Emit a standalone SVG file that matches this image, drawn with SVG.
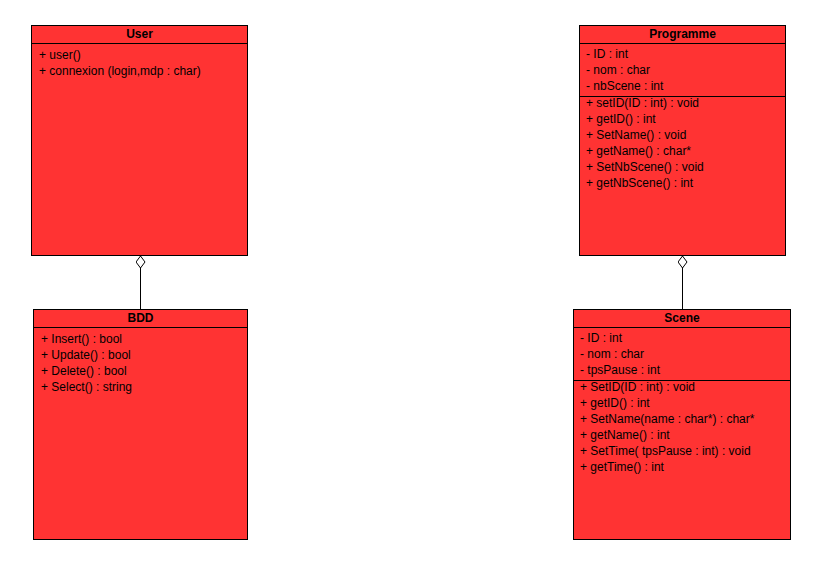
<svg xmlns="http://www.w3.org/2000/svg" width="833" height="569" viewBox="0 0 833 569">
<style>
.box{fill:#ff3333;stroke:#000;stroke-width:1}
.sep{stroke:#000;stroke-width:1;fill:none}
.t{font-family:"Liberation Sans",Arial,sans-serif;font-size:12px;fill:#000}
.h{font-family:"Liberation Sans",Arial,sans-serif;font-size:12px;font-weight:bold;fill:#000;text-anchor:middle}
.con{stroke:#000;stroke-width:1;fill:none}
</style>
<defs>
<marker id="diamond" markerWidth="14" markerHeight="10" refX="13" refY="5" orient="auto" markerUnits="userSpaceOnUse">
<path d="M1,5 L7,0.5 L13,5 L7,9.5 Z" fill="#fff" stroke="#000" stroke-width="1"/>
</marker>
</defs>
<rect width="833" height="569" fill="#fff"/>
<g id="connectors">
<path class="con" d="M140.5,309.5 L140.5,256" marker-end="url(#diamond)"/>
<path class="con" d="M682.5,309.5 L682.5,256" marker-end="url(#diamond)"/>
</g>
<g id="User">
<rect class="box" x="31.5" y="25.5" width="216" height="230"/>
<line class="sep" x1="31.5" y1="43.5" x2="247.5" y2="43.5"/>
<text class="h" x="139.5" y="38">User</text>
<text class="t" x="39" y="59">+ user()</text>
<text class="t" x="39" y="75">+ connexion (login,mdp : char)</text>
</g>
<g id="BDD">
<rect class="box" x="33.5" y="309.5" width="214" height="230"/>
<line class="sep" x1="33.5" y1="327.5" x2="247.5" y2="327.5"/>
<text class="h" x="140.5" y="322">BDD</text>
<text class="t" x="41" y="343">+ Insert() : bool</text>
<text class="t" x="41" y="359">+ Update() : bool</text>
<text class="t" x="41" y="375">+ Delete() : bool</text>
<text class="t" x="41" y="391">+ Select() : string</text>
</g>
<g id="Programme">
<rect class="box" x="579.5" y="25.5" width="206" height="230"/>
<line class="sep" x1="579.5" y1="43.5" x2="785.5" y2="43.5"/>
<line class="sep" x1="579.5" y1="96.5" x2="785.5" y2="96.5"/>
<text class="h" x="682.5" y="38">Programme</text>
<text class="t" x="586" y="58">- ID : int</text>
<text class="t" x="586" y="74">- nom : char</text>
<text class="t" x="586" y="90">- nbScene : int</text>
<text class="t" x="586" y="107">+ setID(ID : int) : void</text>
<text class="t" x="586" y="123">+ getID() : int</text>
<text class="t" x="586" y="139">+ SetName() : void</text>
<text class="t" x="586" y="155">+ getName() : char*</text>
<text class="t" x="586" y="171">+ SetNbScene() : void</text>
<text class="t" x="586" y="187">+ getNbScene() : int</text>
</g>
<g id="Scene">
<rect class="box" x="573.5" y="309.5" width="217" height="230"/>
<line class="sep" x1="573.5" y1="327.5" x2="790.5" y2="327.5"/>
<line class="sep" x1="573.5" y1="380.5" x2="790.5" y2="380.5"/>
<text class="h" x="682" y="322">Scene</text>
<text class="t" x="580" y="342">- ID : int</text>
<text class="t" x="580" y="358">- nom : char</text>
<text class="t" x="580" y="374">- tpsPause : int</text>
<text class="t" x="580" y="391">+ SetID(ID : int) : void</text>
<text class="t" x="580" y="407">+ getID() : int</text>
<text class="t" x="580" y="423">+ SetName(name : char*) : char*</text>
<text class="t" x="580" y="439">+ getName() : int</text>
<text class="t" x="580" y="455">+ SetTime( tpsPause : int) : void</text>
<text class="t" x="580" y="471">+ getTime() : int</text>
</g>
</svg>
